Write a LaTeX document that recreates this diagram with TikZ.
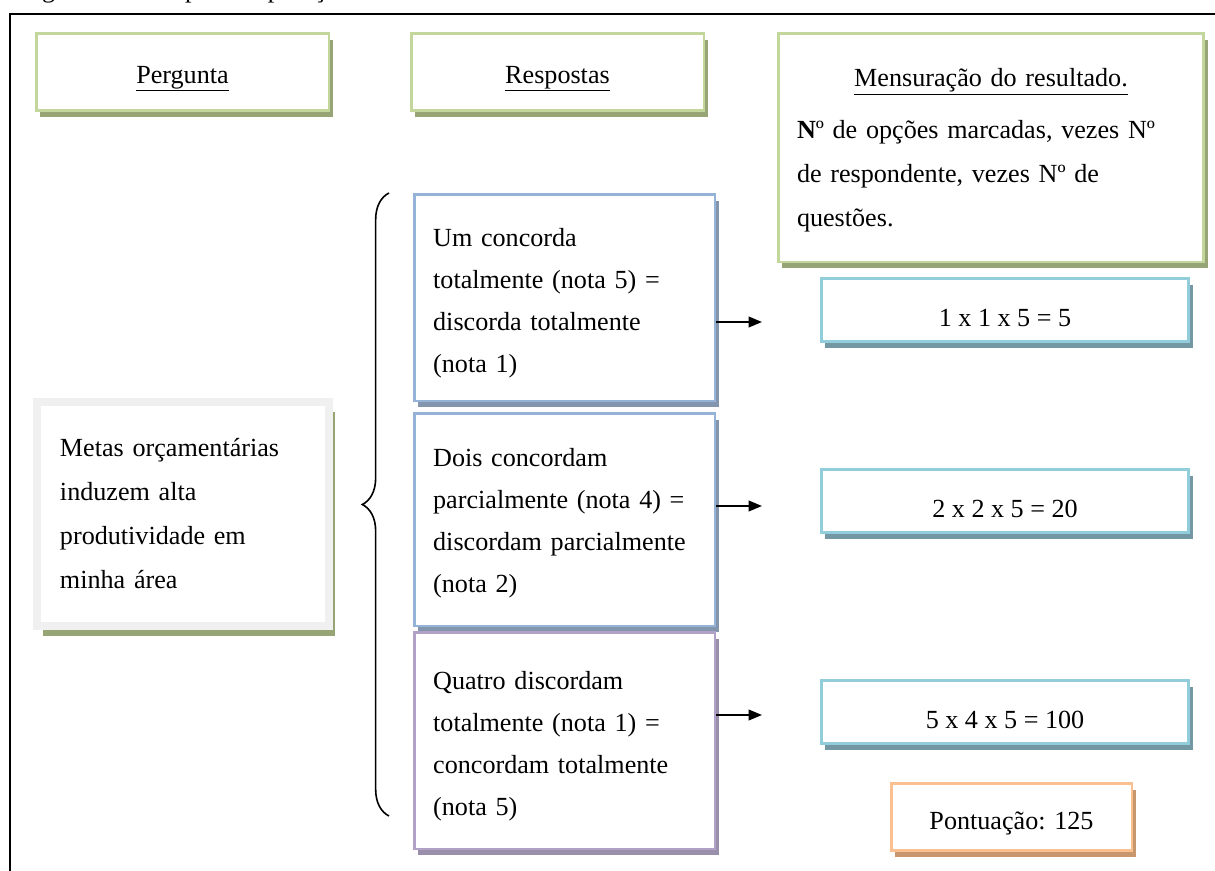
\documentclass[tikz,border=0pt]{standalone}
\usepackage{fontspec}
\setmainfont{Liberation Serif}
\usetikzlibrary{shadows,decorations.pathreplacing,arrows.meta}
\definecolor{greenline}{HTML}{C3D69B}
\definecolor{greenshade}{HTML}{97A476}
\definecolor{blueline}{HTML}{95B3D7}
\definecolor{blueshade}{HTML}{8496AE}
\definecolor{lilacline}{HTML}{B2A1C7}
\definecolor{lilacshade}{HTML}{998FAA}
\definecolor{cyanline}{HTML}{92CDDC}
\definecolor{cyanshade}{HTML}{7397A3}
\definecolor{orangeline}{HTML}{FAC090}
\definecolor{orangeshade}{HTML}{C9976D}
\definecolor{greyline}{HTML}{F0F0F0}
\begin{document}
\begin{tikzpicture}[x=0.75pt,y=-0.75pt,
  every node/.style={font=\fontsize{19.6pt}{32.6pt}\selectfont, inner sep=0pt},
  kasten/.style={draw=#1line, line width=1.9pt, fill=white, rectangle,
    drop shadow={shadow xshift=3pt, shadow yshift=-5pt, fill=#1shade, opacity=1}},
  titel/.style={kasten=green, minimum width=219.4pt, minimum height=58.1pt,
    text height=16.5pt, text depth=0pt},
  antwort/.style={kasten=#1, minimum width=225.4pt, text width=197pt, align=left,
    font=\fontsize{19.6pt}{31.5pt}\selectfont},
  conta/.style={kasten=cyan, minimum width=275.6pt, minimum height=47.6pt,
    text height=24pt, text depth=0pt},
  pfeil/.style={line width=1.3pt, -{Triangle[length=10pt,width=8pt]}}]
\useasboundingbox (0,0) rectangle (1215,871);
\node[anchor=base west] (legenda) at (20,-3) {Figura 3: Exemplo de apuração do resultado};
\draw[line width=1.5pt] (9.5,880) -- (9.5,13.5) -- (1225,13.5);

\node[titel] (pergunta) at (182.5,72) {\underline{Pergunta}};
\node[titel] (respostas) at (557.5,72) {\underline{Respostas}};
\node[kasten=green, minimum width=319.1pt, minimum height=171.4pt,
  text width=291pt, align=left, font=\fontsize{19.6pt}{33pt}\selectfont] (mensuracao) at (991,147.5)
  {\rule{0pt}{18pt}\makebox[\linewidth][c]{\underline{Mensuração do resultado.}}\\[6pt]
   \textbf{N}º de opções marcadas, vezes Nº\\
   de respondente, vezes Nº de\\
   questões.};

\node[draw=greyline, line width=6pt, fill=white, minimum width=219pt, minimum height=168pt,
  text width=184.5pt, align=left, font=\fontsize{19.6pt}{33pt}\selectfont,
  drop shadow={shadow xshift=4.5pt, shadow yshift=-7.5pt, fill=greenshade, opacity=1}]
  (metas) at (183,514)
  {Metas orçamentárias\\ induzem alta\\ produtividade em\\ minha área};

\draw[line width=1.2pt, decorate, decoration={brace, amplitude=20pt}] (389,816) -- (389,193);

\node[antwort=blue, minimum height=154.9pt] (um) at (564.5,297.5)
  {\rule{0pt}{22pt}Um concorda\\ totalmente (nota 5) =\\ discorda totalmente\\ (nota 1)};
\node[antwort=blue, minimum height=159.4pt] (dois) at (564.5,519.5)
  {\rule{0pt}{19pt}Dois concordam\\ parcialmente (nota 4) =\\ discordam parcialmente\\ (nota 2)};
\node[antwort=lilac, minimum height=162.4pt] (quatro) at (564.5,740.5)
  {\rule{0pt}{22pt}Quatro discordam\\ totalmente (nota 1) =\\ concordam totalmente\\ (nota 5)};

\node[conta] (conta1) at (1005,310) {1 x 1 x 5 = 5};
\node[conta] (conta2) at (1005,501) {2 x 2 x 5 = 20};
\node[conta] (conta3) at (1005,712) {5 x 4 x 5 = 100};

\node[kasten=orange, minimum width=180.4pt, minimum height=50.6pt,
  text height=18pt, text depth=0pt] (pontuacao) at (1011.5,817) {Pontuação: 125};

\coordinate (ende1) at (762,322);
\coordinate (ende2) at (762,506);
\coordinate (ende3) at (762,715);
\draw[pfeil] (ende1 -| um.east) -- (ende1);
\draw[pfeil] (ende2 -| dois.east) -- (ende2);
\draw[pfeil] (ende3 -| quatro.east) -- (ende3);
\end{tikzpicture}
\end{document}
